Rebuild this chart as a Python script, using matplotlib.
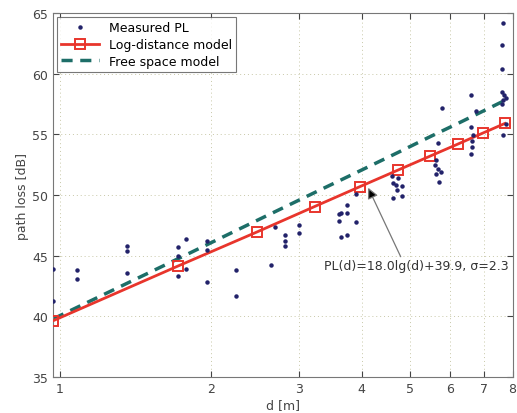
#!/usr/bin/env python3
"""
Path loss vs distance: measurements, fitted log-distance model and free space model.
"""
import matplotlib
matplotlib.use("Agg")
import matplotlib.pyplot as plt
from matplotlib.ticker import FixedLocator, FixedFormatter, NullLocator

# measured path loss samples
meas_d = [0.97, 0.97, 1.08, 1.08, 1.36, 1.36, 1.36,
          1.72, 1.72, 1.72, 1.785, 1.785, 1.965, 1.965, 1.965, 2.24, 2.24,
          2.64, 2.69, 2.81, 2.81, 2.81, 2.995, 2.995,
          3.61, 3.63, 3.60, 3.64, 3.74, 3.74, 3.74, 3.89, 3.89,
          4.61, 4.68, 4.81, 4.70, 4.61, 4.81, 4.72, 4.60,
          5.79, 5.67, 5.63, 5.59, 5.67, 5.76, 5.63, 5.70,
          6.62, 6.76, 6.60, 6.68, 6.65, 6.65, 6.60,
          7.66, 7.62, 7.62, 7.62, 7.70, 7.76, 7.65, 7.62, 7.76, 7.66]
meas_pl = [43.9, 41.3, 43.8, 43.1, 45.8, 45.4, 43.6,
           45.7, 45.0, 43.3, 46.4, 43.9, 46.2, 45.5, 42.8, 43.8, 41.7,
           44.2, 47.35, 46.7, 46.25, 45.8, 47.5, 46.9,
           48.45, 48.5, 47.85, 46.5, 49.2, 48.5, 46.7, 47.8, 50.1,
           50.96, 50.82, 50.77, 50.41, 49.73, 49.89, 51.38, 51.59,
           57.15, 54.3, 52.85, 52.45, 52.14, 51.92, 51.7, 51.07,
           58.27, 56.92, 55.58, 54.95, 54.45, 53.95, 53.38,
           64.18, 62.33, 60.38, 58.5, 58.24, 58.04, 57.87, 57.5, 55.85, 54.94]

# model curves evaluated at the square markers
model_d = [0.97, 1.72, 2.47, 3.22, 3.97, 4.72, 5.47, 6.22, 6.97, 7.72]
logdist_pl = [39.65, 44.15, 46.95, 49.05, 50.7, 52.05, 53.2, 54.2, 55.1, 55.9]
freespace_pl = [39.8, 44.75, 47.9, 50.2, 52.0, 53.5, 54.8, 55.9, 56.9, 57.8]

xticks = [1, 2, 3, 4, 5, 6, 7, 8]
yticks = [35, 40, 45, 50, 55, 60, 65]

fig = plt.figure(figsize=(5.17, 4.14), dpi=100)
ax = fig.add_axes([0.1025, 0.087, 0.889, 0.879])

ax.plot(meas_d, meas_pl, linestyle="none", marker="o", markersize=2.2,
        color="#22226a", label="Measured PL", zorder=4)
ax.plot(model_d, logdist_pl, color="#e8352c", lw=2.0, marker="s", markersize=7,
        markerfacecolor="none", markeredgewidth=1.4, label="Log-distance model", zorder=3)
ax.plot(model_d, freespace_pl, color="#1d6e68", lw=2.5, linestyle=(0, (3.2, 2.2)),
        label="Free space model", zorder=2)

ax.set_xscale("log")
ax.set_xlim(0.968, 8.0)
ax.set_ylim(35, 65)
ax.xaxis.set_major_locator(FixedLocator(xticks))
ax.xaxis.set_major_formatter(FixedFormatter([str(t) for t in xticks]))
ax.xaxis.set_minor_locator(NullLocator())
ax.set_yticks(yticks)

ax.grid(True, linestyle=(0, (1, 3)), color="#c8c8a8", lw=0.7)
ax.tick_params(direction="in", top=True, right=True, labelsize=9,
               colors="#444444", length=4)
for s in ax.spines.values():
    s.set_color("#777777")

ax.set_xlabel("d [m]", fontsize=9, color="#444444", labelpad=2)
ax.set_ylabel("path loss [dB]", fontsize=9, color="#444444", labelpad=2)

ax.annotate("PL(d)=18.0lg(d)+39.9, σ=2.3", xy=(4.12, 50.6), xytext=(3.37, 44.15),
            fontsize=9, color="#333333", va="center", ha="left",
            arrowprops=dict(arrowstyle="-|>", ec="#777777", fc="black", lw=0.9,
                            mutation_scale=16, shrinkA=0, shrinkB=0,
                            relpos=(0.42, 1.0)))

leg = ax.legend(loc="upper left", fontsize=9, frameon=True, fancybox=False,
                borderaxespad=0.3, handlelength=3.0, labelspacing=0.3,
                borderpad=0.35)
leg.get_frame().set_edgecolor("#555555")
leg.get_frame().set_linewidth(0.8)

fig.savefig("out.png", dpi=100)
